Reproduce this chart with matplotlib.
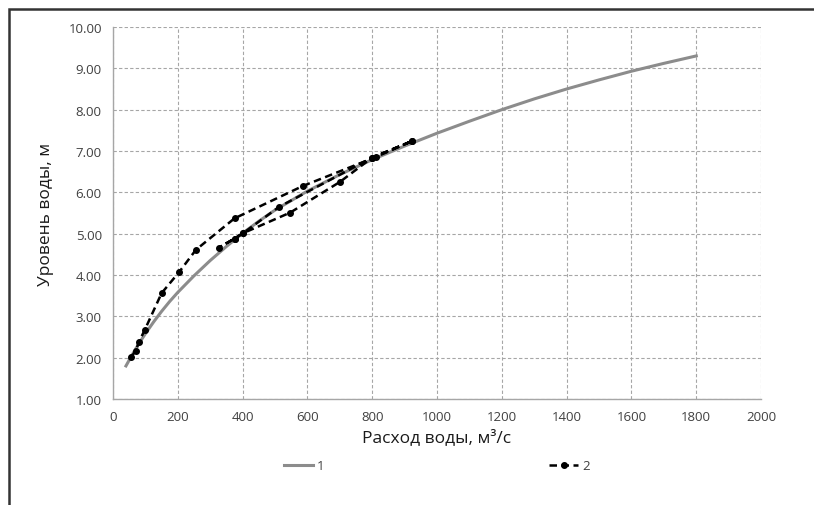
import matplotlib
matplotlib.use("Agg")
import matplotlib.pyplot as plt
from matplotlib.patches import Rectangle

plt.rcParams["font.family"] = ["Open Sans", "DejaVu Sans"]

# curve 1: rating curve (grey)
q_curve = [40, 60, 80, 100, 125, 150, 175, 200, 250, 300, 350, 400, 450, 500, 600, 700, 800, 900,
           1000, 1100, 1200, 1300, 1400, 1500, 1600, 1700, 1800]
h_curve = [1.80, 2.08, 2.34, 2.58, 2.86, 3.12, 3.36, 3.58, 3.98, 4.35, 4.69, 5.01, 5.30, 5.57, 6.03, 6.43,
           6.79, 7.12, 7.43, 7.72, 8.00, 8.26, 8.50, 8.72, 8.93, 9.12, 9.30]

# curve 2: observed loop (rise, fall, second rise)
q_obs = [55, 70, 80, 98, 150, 205, 256, 375, 585, 813, 923, 800, 700, 547, 401, 375, 326, 375, 401, 513, 800, 923]
h_obs = [2.01, 2.16, 2.38, 2.67, 3.56, 4.08, 4.61, 5.37, 6.15, 6.86, 7.24, 6.84, 6.25, 5.51, 5.01, 4.88, 4.66, 4.88, 5.01, 5.65, 6.84, 7.24]

x_ticks = list(range(0, 2001, 200))
y_ticks = [1, 2, 3, 4, 5, 6, 7, 8, 9, 10]

fig = plt.figure(figsize=(8.14, 5.06), dpi=100)
ax = fig.add_axes([0.1388, 0.2095, 0.7962, 0.7352])

line1, = ax.plot(q_curve, h_curve, color="#8c8c8c", lw=2.2, label="1", zorder=3)
line2, = ax.plot(q_obs, h_obs, color="black", lw=1.8, ls=(0, (3, 1.8)), marker="o", ms=4,
                 label="2", zorder=4)

ax.set_xlim(0, 2000)
ax.set_ylim(1, 10)
ax.set_xticks(x_ticks)
ax.set_yticks(y_ticks)
ax.set_yticklabels([f"{v:.2f}" for v in y_ticks])
ax.tick_params(length=0, labelsize=9.5, labelcolor="#404040", pad=8)
ax.grid(True, color="#a6a6a6", ls=(0, (3, 2)), lw=0.8)

for side in ["top", "right"]:
    ax.spines[side].set_visible(False)
for side in ["left", "bottom"]:
    ax.spines[side].set_color("#a6a6a6")
    ax.spines[side].set_linewidth(1.0)

ax.set_xlabel("Расход воды, м³/с", fontsize=12.5, color="#1a1a1a", labelpad=4)
ax.set_ylabel("Уровень воды, м", fontsize=12.5, color="#1a1a1a", labelpad=10)

fig.legend(handles=[line1, line2], loc="center", bbox_to_anchor=(437 / 814, 1 - 467 / 506),
           ncol=2, frameon=False, fontsize=9.5, columnspacing=17, handlelength=2.2,
           handletextpad=0.3, labelcolor="#404040")

# outer frame (only top and left edges visible in the picture)
fig.patches.append(Rectangle((9 / 814, -0.1), 1.2, 1 - 10 / 506 + 0.1, transform=fig.transFigure,
                             fill=False, edgecolor="#333333", lw=1.8))

plt.savefig("out.png", dpi=100)
plt.close(fig)
